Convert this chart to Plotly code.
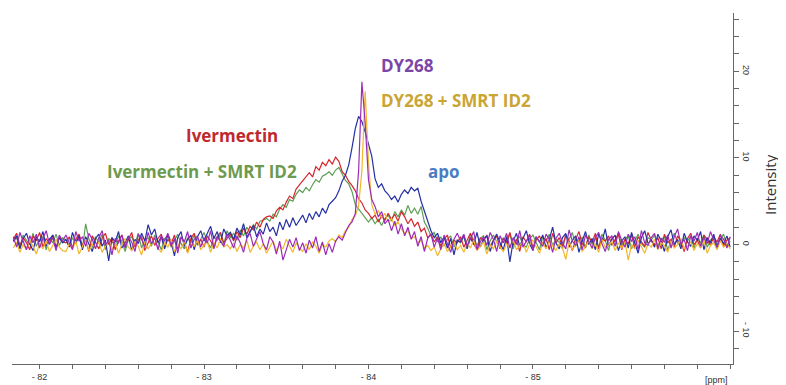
import numpy as np
import plotly.graph_objects as go

# ppm axis sampling (uniform spectrum grid)
PPM_START = -81.84
PPM_STEP = -0.02

apo = [
    0.4, 1.0, -0.5, 0.7, 1.3, 0.1, -0.7, 0.9, 0.3, 1.5, -0.2, 0.6, 1.1, -0.4, 0.8, 0.2,
    0.6, -0.3, 1.4, 0.2, 1.0, -0.6, 0.9, 0.1, -0.8, 0.7,
    1.2, -0.2, 0.5, -1.9, 0.8, 0.3, 1.5, -0.4, 0.2, 1.0,
    -0.7, 0.6, 0.1, 1.3, 0.4, 2.3, 1.1, 1.8, 0.2, 0.9,
    -0.5, 1.2, 0.3, -1.3, 0.8, 1.5, -0.2, 0.6, 1.1, -0.6,
    0.9, 1.6, 0.4, 1.3, 2.1, 0.7, 1.5, 0.2, 1.8, 1.0,
    1.4, 0.6, 1.9, 1.1, 2.4, 0.8, 1.6, 2.2, 0.9, 1.8,
    1.2, 2.5, 1.5, 2.0, 1.0, 2.6, 1.7, 2.9, 2.0, 3.1,
    2.2, 2.8, 3.4, 2.5, 3.6, 2.9, 3.8, 3.2, 4.2, 3.6,
    4.6, 5.0, 5.4, 6.2, 7.3, 8.0, 9.2, 11.2, 13.4, 14.8,
    14.2, 13.0, 11.6, 10.2, 7.6, 6.6, 7.0, 6.2, 5.8, 5.2,
    5.6, 4.9, 5.8, 6.3, 5.9, 6.6, 6.2, 6.5, 5.0, 3.8,
    2.6, 1.6, 0.8, 1.3, 0.2, 0.9, -0.4, 0.7, -1.2, 0.5,
    0.3, 1.1, -0.5, 0.8, 0.0, 1.4, -0.3, 0.6, 1.0, -0.8,
    0.5, 1.2, 0.2, -0.6, 0.9, -2.0, 0.4, 1.3, -0.2, 0.7,
    1.6, 0.1, -0.7, 0.9, 0.3, 1.1, -0.4, 0.6, 2.0, 0.2,
    -0.5, 0.8, 1.3, -0.3, 0.5, 1.0, -0.9, 0.4, 1.5, 0.0,
    0.7, -0.6, 1.2, 0.3, 1.8, -0.2, 0.6, 1.1, -0.7, 0.4,
    0.9, -0.4, 1.4, 0.2, -1.0, 0.8, 1.6, 0.1, 0.5, -0.3,
    1.2, 0.4, -0.8, 0.9, 1.7, 0.0, 0.6, -0.5, 1.3, 0.3,
    -0.2, 1.0, 0.5, 1.5, -0.6, 0.8, 0.2, 1.2, -0.4, 0.7,
    0.1, 1.0, -0.3,
]

dy268 = [
    0.9, -0.3, 1.4, 0.5, -0.6, 1.0, 0.2, 1.2, -0.4, 0.7, 1.6, 0.0, 0.8, -0.7, 1.1, 0.4,
    1.1, 0.2, -0.6, 1.5, 0.4, 0.9, -0.2, 1.3, 0.6, -0.5,
    0.8, 1.6, -0.1, 0.5, -1.2, 0.7, 0.2, 1.1, -0.4, 0.9,
    0.3, -0.8, 1.2, 0.6, -0.3, 1.4, 0.1, 0.8, -0.6, 1.0,
    0.4, 1.3, -0.2, 0.7, -1.0, 0.9, 0.3, 1.5, -0.4, 0.6,
    1.0, -0.3, 0.8, 0.2, 1.6, -0.5, 0.9, 0.4, -0.2, 1.2,
    0.5, -0.4, 1.0, 0.2, -0.9, 0.7, 1.3, -0.2, 0.6, 1.5,
    0.1, -0.6, 0.9, 0.3, -1.1, 0.4, -1.8, -0.5, 0.6, -0.3,
    0.8, -0.7, 0.2, -1.0, 0.5, -0.4, 0.9, -0.8, 0.3, -1.2,
    0.1, -0.9, 0.4, 0.9, 0.5, 1.4, 2.2, 2.6, 3.6, 8.5,
    18.8, 14.0, 7.5, 5.2, 4.4, 3.2, 3.8, 2.4, 2.9, 1.6,
    2.7, 1.2, 2.4, 1.0, 2.0, 0.6, 1.5, -0.2, 0.9, -0.8,
    0.7, 1.2, -0.3, 0.8, -0.6, 1.1, 0.2, -0.9, 0.6, 1.3,
    0.4, 1.2, -0.2, 0.7, 1.5, -0.6, 0.3, 0.9, -0.1, 1.4,
    0.6, -0.8, 1.0, 0.2, 1.3, -0.4, 0.8, 0.0, 1.6, -0.3,
    0.5, 1.1, -0.7, 0.9, 0.3, -0.2, 1.2, 0.6, -0.9, 0.7,
    1.3, 0.2, -0.5, 1.7, 0.4, -0.1, 0.9, -0.6, 1.1, 0.3,
    -0.4, 0.8, 1.4, 0.1, -0.8, 0.6, 1.0, -0.2, 1.5, 0.5,
    -0.3, 1.2, 0.4, 0.9, -0.6, 1.6, 0.2, -0.1, 0.8, 1.3,
    -0.5, 0.7, 0.3, 1.1, -0.4, 0.9, 1.8, 0.0, 0.6, -0.7,
    1.0, 0.4, 1.4, -0.2, 0.8, 0.1, 1.5, 0.5, -0.3, 1.1,
    0.6, -0.4, 0.9,
]

ivermectin = [
    0.6, 1.3, -0.1, 0.8, 0.2, -0.6, 1.0, 0.5, 1.4, -0.3, 0.7, 0.1, 1.1, -0.5, 0.9, 0.3,
    0.2, 0.9, -0.4, 0.6, 1.2, -0.1, 0.5, -0.8, 1.0, 0.3,
    -0.5, 0.7, 1.3, 0.0, 0.8, -0.6, 0.4, 1.1, -0.2, 0.6,
    1.4, -0.3, 0.5, 0.9, -0.7, 0.2, 1.0, -0.1, 0.7, 1.2,
    -0.4, 0.6, 0.1, 1.1, -0.5, 0.8, 0.3, -0.9, 0.7, 1.3,
    0.0, 0.6, -0.3, 1.0, 0.4, -0.2, 0.9, 1.4, 0.2, 0.7,
    1.2, 0.4, 1.5, 0.8, 1.9, 1.2, 2.1, 1.7, 2.6, 2.0,
    2.9, 3.2, 3.3, 3.0, 3.9, 4.3, 4.0, 4.9, 5.6, 5.3,
    6.4, 6.9, 7.4, 7.9, 8.3, 7.8, 9.0, 8.6, 9.5, 9.1,
    9.8, 9.3, 10.1, 9.6, 8.4, 8.0, 7.3, 6.8, 6.2, 5.3,
    4.8, 4.0, 3.6, 3.0, 3.4, 2.6, 3.3, 2.8, 3.6, 2.9,
    3.5, 2.7, 3.8, 3.2, 2.4, 3.0, 2.1, 2.6, 1.5, 1.9,
    0.8, 1.2, 0.3, 0.9, -0.2, 0.6, 1.1, -0.4, 0.5, 0.2,
    0.9, -0.3, 0.6, 1.3, 0.1, -0.6, 0.8, 0.4, 1.1, -0.2,
    0.5, 1.0, -0.5, 0.7, 0.2, 1.4, -0.1, 0.6, -0.8, 0.9,
    0.3, 1.2, -0.4, 0.5, 1.0, 0.0, 0.7, -0.6, 1.3, 0.2,
    0.8, -0.2, 1.1, 0.4, -0.7, 0.6, 1.5, 0.1, -0.3, 0.9,
    0.2, 1.3, -0.5, 0.7, 0.4, 1.0, -0.1, 0.5, 1.2, -0.6,
    0.6, 0.1, 1.1, -0.4, 0.9, 0.3, -0.2, 1.4, 0.5, 0.0,
    0.8, -0.5, 1.2, 0.2, 0.6, -0.3, 1.0, 0.4, -0.8, 0.7,
    1.3, 0.0, 0.5, -0.4, 1.1, 0.6, -0.1, 0.9, 0.3, 1.2,
    -0.2, 0.5, 0.8,
]

ivermectin_smrt = [
    0.3, 0.8, -0.4, 1.1, 0.5, 0.0, 1.3, -0.2, 0.6, 0.9, -0.6, 0.7, 0.2, 1.2, -0.1, 0.8,
    0.5, -0.2, 0.8, 0.1, 1.1, -0.5, 2.4, 0.6, -0.3, 0.9,
    0.2, 1.2, -0.6, 0.7, 0.3, -0.1, 1.0, 0.4, -0.8, 0.6,
    0.9, 0.0, 1.3, -0.4, 0.5, 0.8, -0.2, 1.1, 0.3, -0.6,
    0.7, 1.0, -0.3, 0.4, 1.2, 0.1, -0.5, 0.8, 0.2, 1.1,
    -0.1, 0.6, 1.4, 0.3, -0.4, 0.9, 0.5, 1.2, 0.0, 1.6,
    0.8, 1.3, 0.5, 1.7, 1.0, 2.0, 1.4, 2.3, 1.8, 2.7,
    2.8, 3.0, 2.7, 3.5, 3.2, 4.1, 4.6, 4.3, 5.2, 5.0,
    5.8, 6.3, 6.0, 6.6, 6.2, 6.9, 7.5, 7.2, 7.9, 8.1,
    8.4, 8.0, 8.6, 8.9, 8.2, 7.4, 7.0, 6.1, 4.6, 4.1,
    3.6, 3.0, 2.6, 3.1, 2.4, 2.9, 2.2, 3.0, 3.4, 2.7,
    3.8, 3.2, 4.0, 3.4, 4.5, 3.6, 4.2, 3.5, 4.4, 2.6,
    1.9, 1.0, 1.4, 0.3, 0.9, -0.2, 0.6, 1.0, -0.3, 0.5,
    0.2, 0.9, -0.4, 1.2, 0.5, -0.1, 0.7, 1.0, -0.6, 0.4,
    1.1, 0.3, -0.2, 0.8, 0.1, 1.3, -0.5, 0.6, 0.9, 0.0,
    -0.3, 0.7, 1.1, 0.2, -0.6, 0.9, 0.4, 1.2, -0.1, 0.6,
    0.3, -0.5, 1.0, 0.6, 1.4, -0.2, 0.5, 0.8, -0.4, 1.1,
    0.0, 0.7, -0.3, 1.2, 0.5, -0.7, 0.9, 0.3, 1.3, -0.1,
    0.6, 1.0, -0.5, 0.4, 1.2, 0.1, -0.3, 0.8, 0.5, 1.1,
    -0.2, 0.6, 0.9, -0.6, 0.3, 1.3, 0.2, -0.1, 0.8, 0.4,
    1.0, -0.4, 0.7, 0.2, 1.1, -0.3, 0.5, 0.9, 0.0, 0.6,
    1.2, -0.2, 0.4,
]

dy268_smrt = [
    -0.4, 0.3, -0.9, 0.0, -0.6, 0.5, -0.2, -1.1, 0.2, -0.5, 0.4, -0.8, -0.1, 0.6, -0.3, -0.7,
    -0.8, 0.1, -0.5, 0.4, -1.1, -0.2, 0.6, -0.7, 0.0, -0.4,
    0.3, -0.9, -0.1, 0.5, -0.6, 0.2, -1.0, 0.0, 0.7, -0.3,
    -0.7, 0.4, -0.2, -1.2, 0.3, -0.5, 0.1, 0.8, -0.4, -0.9,
    0.2, -0.3, 0.6, -0.8, 0.0, -0.5, 0.4, -1.0, 0.1, -0.2,
    0.5, -0.6, -0.1, 0.3, -0.9, 0.2, -0.4, 0.7, -0.3, 0.0,
    -0.5, 0.2, -0.8, 0.0, -0.4, 0.5, -0.9, -0.2, 0.3, -0.6,
    0.1, -1.0, -0.3, 0.4, -0.7, 0.0, -0.5, 0.6, -0.2, -0.9,
    0.2, -0.4, -0.8, 0.1, -0.6, 0.3, -0.2, -1.0, 0.0, -0.3,
    0.4, 0.7, 0.3, 1.1, 0.8, 1.6, 2.0, 2.9, 3.3, 4.5,
    8.5, 17.7, 9.5, 4.6, 3.5, 3.9, 3.1, 3.6, 2.6, 3.0,
    2.2, 2.6, 1.8, 1.3, 1.6, 0.7, 0.9, 0.2, 0.5, -0.4,
    -0.1, -0.7, -0.3, -1.3, -0.5, 0.1, -0.8, -0.2, 0.3, -0.6,
    -0.1, -0.9, 0.2, -0.4, 0.5, -0.7, -0.2, 0.3, -1.1, 0.0,
    -0.5, 0.4, -0.3, -0.8, 0.1, -0.4, 0.6, -0.6, -0.1, 0.3,
    -0.9, 0.0, 0.5, -0.3, -1.0, 0.2, -0.5, 0.4, -0.2, -0.7,
    0.1, -0.4, -1.7, 0.3, -0.6, 0.0, 0.5, -0.8, -0.2, 0.4,
    -0.5, 0.1, -0.9, 0.6, -0.3, -0.1, 0.4, -0.7, 0.2, -0.4,
    0.3, -1.8, 0.0, -0.5, 0.5, -0.2, -1.0, 0.1, -0.3, 0.6,
    -0.6, 0.2, -0.1, -0.9, 0.4, -0.4, 0.0, 0.7, -0.5, -0.2,
    0.3, -0.7, 0.1, -0.3, 0.5, -1.0, -0.1, 0.2, -0.6, 0.4,
    -0.3, 0.1, -0.5,
]

x_tick_vals = [-82, -83, -84, -85, -86]
x_tick_text = ["- 82", "- 83", "- 84", "- 85", ""]
y_tick_vals = [-10, 0, 10, 20]
y_tick_text = ["- 10", "0", "10", "20"]

series = [
    ("Ivermectin + SMRT ID2", ivermectin_smrt, "#5E9F55"),
    ("Ivermectin", ivermectin, "#D6262C"),
    ("apo", apo, "#2630A6"),
    ("DY268 + SMRT ID2", dy268_smrt, "#F2B72A"),
    ("DY268", dy268, "#9A2DB8"),
]

fig = go.Figure()
for name, ys, color in series:
    xs = PPM_START + PPM_STEP * np.arange(len(ys))
    fig.add_trace(go.Scatter(x=xs, y=ys, mode="lines", name=name,
                             line=dict(color=color, width=1.2), showlegend=False))

# page body has an 8px margin, so the figure is 8px smaller than the window
W, H = 778, 377
OFF = 8
PLOT_L, PLOT_R, PLOT_T, PLOT_B = 12 - OFF, 733 - OFF, 13 - OFF, 364 - OFF

tick_font = dict(family="Liberation Sans", size=9, color="#333333")
fig.update_layout(
    width=W, height=H,
    margin=dict(l=PLOT_L, r=W - PLOT_R, t=PLOT_T, b=H - PLOT_B),
    paper_bgcolor="white", plot_bgcolor="white",
    xaxis=dict(range=[-81.832, -86.217], showgrid=False, zeroline=False,
               showline=True, linecolor="#666666", linewidth=1,
               tickvals=x_tick_vals, ticktext=x_tick_text, ticks="outside",
               ticklen=4, tickcolor="#666666", tickfont=tick_font,
               minor=dict(dtick=0.2, tick0=-82, ticks="outside", ticklen=4, tickcolor="#666666"),
               automargin=False),
    yaxis=dict(range=[-13.79, 26.73], side="right", showgrid=False, zeroline=False,
               showline=True, linecolor="#666666", linewidth=1,
               tickvals=y_tick_vals, ticktext=y_tick_text, ticks="outside",
               ticklen=5, tickcolor="#666666", tickfont=tick_font, tickangle=90,
               minor=dict(dtick=2, tick0=0, ticks="outside", ticklen=5, tickcolor="#666666"),
               automargin=False),
)

# helpers: window pixel -> paper fraction
def px_x(px):
    return (px - 12) / (733 - 12)

def px_y(py):
    return (364 - py) / (364 - 13)

label_font = "Open Sans"
labels = [
    ("DY268", 379, 66, "#7C45A8"),
    ("DY268 + SMRT ID2", 379, 101, "#C9A533"),
    ("Ivermectin", 184, 136, "#C0282D"),
    ("Ivermectin + SMRT ID2", 105, 171, "#6C9A4E"),
    ("apo", 426, 171, "#4C7DC2"),
]
for text, lx, ly, col in labels:
    fig.add_annotation(x=px_x(lx), y=px_y(ly), xref="paper", yref="paper",
                       text="<b>" + text + "</b>", showarrow=False,
                       xanchor="left", yanchor="middle",
                       font=dict(family=label_font, size=17, color=col))

fig.add_annotation(x=px_x(770), y=px_y(185), xref="paper", yref="paper",
                   text="Intensity", textangle=-90, showarrow=False,
                   xanchor="center", yanchor="middle", borderpad=0,
                   font=dict(family="Open Sans", size=15, color="#333333"))
fig.add_annotation(x=px_x(716), y=px_y(380), xref="paper", yref="paper",
                   text="[ppm]", showarrow=False, xanchor="center", yanchor="middle",
                   font=dict(family="Liberation Sans", size=9, color="#333333"))

fig.write_html("out.html")
